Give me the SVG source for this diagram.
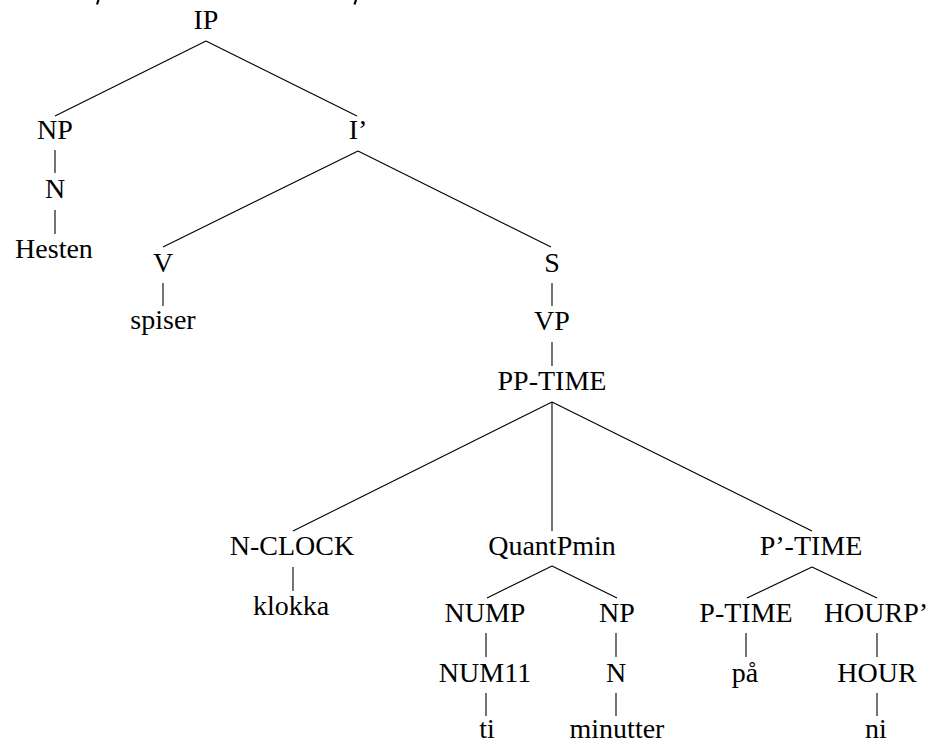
<svg xmlns="http://www.w3.org/2000/svg" width="928" height="743" viewBox="0 0 928 743">
<style>
text{font-family:"Liberation Serif","Times New Roman",serif;font-size:28px;fill:#000;text-anchor:middle}
.e line{stroke:#000;stroke-width:1.1}
.m{stroke:#000;stroke-width:2.2}
</style>
<rect width="928" height="743" fill="#fff"/>
<line class="m" x1="98.5" y1="0" x2="97" y2="4.5"/>
<line class="m" x1="356" y1="0" x2="354.5" y2="4.5"/>
<g class="e" id="edges">
<line x1="206" y1="41" x2="55" y2="116"/>
<line x1="206" y1="41" x2="357" y2="116"/>
<line x1="55" y1="150" x2="55" y2="173"/>
<line x1="55" y1="210" x2="55" y2="234"/>
<line x1="358" y1="151" x2="163" y2="247"/>
<line x1="358" y1="151" x2="551" y2="247"/>
<line x1="163" y1="283" x2="163" y2="306"/>
<line x1="552" y1="283" x2="552" y2="306"/>
<line x1="552" y1="342" x2="552" y2="366"/>
<line x1="552" y1="402" x2="293" y2="531"/>
<line x1="552" y1="402" x2="552" y2="531"/>
<line x1="552" y1="402" x2="812" y2="531"/>
<line x1="293" y1="567" x2="293" y2="591"/>
<line x1="552" y1="566" x2="487" y2="598"/>
<line x1="552" y1="566" x2="617" y2="598"/>
<line x1="812" y1="567" x2="747" y2="598"/>
<line x1="812" y1="567" x2="877" y2="598"/>
<line x1="486" y1="633" x2="486" y2="657"/>
<line x1="616" y1="633" x2="616" y2="657"/>
<line x1="746" y1="633" x2="746" y2="657"/>
<line x1="877" y1="633" x2="877" y2="657"/>
<line x1="486" y1="693" x2="486" y2="716"/>
<line x1="616" y1="693" x2="616" y2="716"/>
<line x1="877" y1="693" x2="877" y2="716"/>
</g>
<g id="n-IP"><text x="206" y="29">IP</text></g>
<g id="n-NP"><text x="55" y="139">NP</text></g>
<g id="n-I1"><text x="358" y="139">I’</text></g>
<g id="n-N"><text x="55" y="198">N</text></g>
<g id="n-Hesten"><text x="54" y="258">Hesten</text></g>
<g id="n-V"><text x="163" y="272">V</text></g>
<g id="n-S"><text x="552" y="272">S</text></g>
<g id="n-spiser"><text x="163" y="329">spiser</text></g>
<g id="n-VP"><text x="552" y="330">VP</text></g>
<g id="n-PPTIME"><text x="552" y="390">PP-TIME</text></g>
<g id="n-NCLOCK"><text x="292" y="555">N-CLOCK</text></g>
<g id="n-QuantPmin"><text x="552" y="555">QuantPmin</text></g>
<g id="n-P1TIME"><text x="811" y="555">P’-TIME</text></g>
<g id="n-klokka"><text x="291" y="615">klokka</text></g>
<g id="n-NUMP"><text x="485" y="622">NUMP</text></g>
<g id="n-NP2"><text x="617" y="622">NP</text></g>
<g id="n-PTIME"><text x="746" y="622">P-TIME</text></g>
<g id="n-HOURP"><text x="876" y="622">HOURP’</text></g>
<g id="n-NUM11"><text x="485" y="682">NUM11</text></g>
<g id="n-N2"><text x="616" y="682">N</text></g>
<g id="n-paa"><text x="745" y="682">på</text></g>
<g id="n-HOUR"><text x="877" y="682">HOUR</text></g>
<g id="n-ti"><text x="487" y="738">ti</text></g>
<g id="n-minutter"><text x="617" y="738">minutter</text></g>
<g id="n-ni"><text x="876" y="738">ni</text></g>
</svg>
